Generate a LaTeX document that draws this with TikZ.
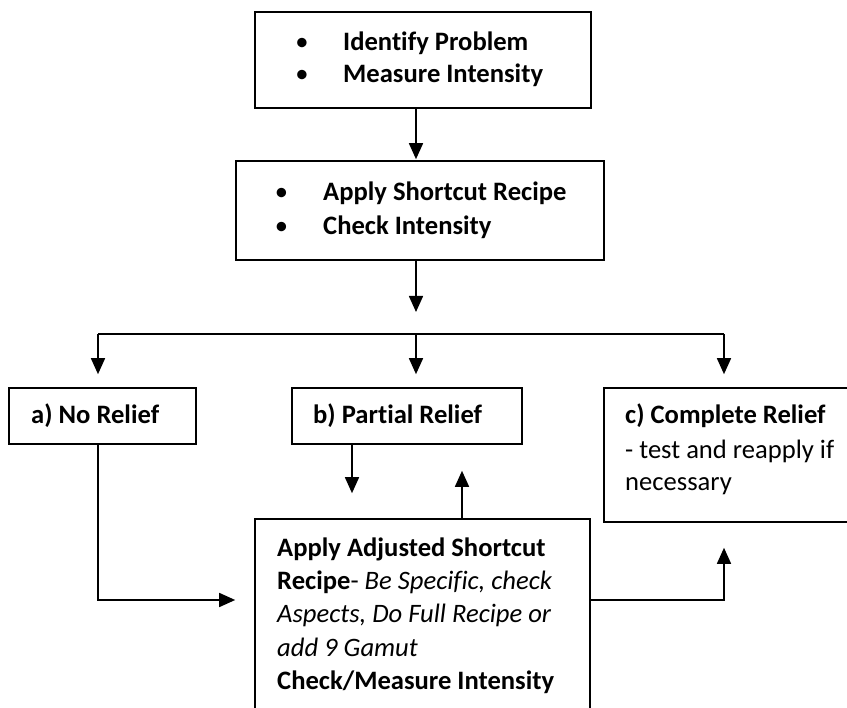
\documentclass[tikz,border=0pt]{standalone}
\usepackage{fontspec}
\setmainfont[Ligatures=NoCommon]{Carlito}
\usetikzlibrary{arrows.meta}
\begin{document}
\begin{tikzpicture}[x=1pt,y=-1pt,
  box/.style={draw, line width=1.6pt, rectangle, inner sep=0pt},
  txt/.style={anchor=base west, inner sep=0pt, font=\fontsize{26.6}{32}\selectfont},
  bul/.style={anchor=base, inner sep=0pt, font=\fontsize{26.6}{32}\selectfont},
  arr/.style={line width=1.6pt, -{Triangle[length=16pt,width=14pt]}},
  ln/.style={line width=1.6pt}]
\useasboundingbox (0,0) rectangle (847,708);
\clip (0,0) rectangle (847,708);
% boxes
\node[box, minimum width=336pt, minimum height=96pt] (top) at (423,60) {};
\node[box, minimum width=368pt, minimum height=99pt] (mid) at (420,210.5) {};
\node[box, minimum width=187pt, minimum height=56pt] (a) at (102.5,416) {};
\node[box, minimum width=230pt, minimum height=56pt] (b) at (407,416) {};
\node[box, minimum width=248pt, minimum height=134pt] (c) at (728,455) {};
\node[box, minimum width=335pt, minimum height=211pt] (d) at (422.5,624.5) {};
% texts
\node[bul] (tb1) at (302,51) {•};
\node[bul] (tb2) at (302,83) {•};
\node[txt] (tt1) at (343,51) {\textbf{Identify Problem}};
\node[txt] (tt2) at (343,83) {\textbf{Measure Intensity}};
\node[bul] (mb1) at (281.5,201) {•};
\node[bul] (mb2) at (281.5,235) {•};
\node[txt] (mt1) at (323,201) {\textbf{Apply Shortcut Recipe}};
\node[txt] (mt2) at (323,235) {\textbf{Check Intensity}};
\node[txt] (at) at (31,424) {\textbf{a) No Relief}};
\node[txt] (bt) at (313,424) {\textbf{b) Partial Relief}};
\node[txt] (ct1) at (625,424) {\textbf{c) Complete Relief}};
\node[txt] (ct2) at (625,459) {- test and reapply if};
\node[txt] (ct3) at (625,491) {necessary};
\node[txt] (dt1) at (277,557) {\textbf{Apply Adjusted Shortcut}};
\node[txt] (dt2) at (277,590) {\textbf{Recipe}- \textit{Be Specific, check}};
\node[txt] (dt3) at (277,623) {\textit{Aspects, Do Full Recipe or}};
\node[txt] (dt4) at (277,656) {\textit{add 9 Gamut}};
\node[txt] (dt5) at (277,689) {\textbf{Check/Measure Intensity}};
% junction coordinates
\coordinate (jA) at (98,334);
\coordinate (jB) at (416,334);
\coordinate (jC) at (724,334);
\coordinate (lvl) at (0,600);
\coordinate (xb) at (352,0);
\coordinate (xu) at (462,0);
% connectors
\draw[arr, shorten >=1pt] (top.south -| jB) -- (mid.north -| jB);
\draw[arr, shorten >=22pt] (mid.south -| jB) -- (jB);
\draw[ln] (jA) -- (jC);
\draw[arr, shorten >=13pt] (jA) -- (a.north -| jA);
\draw[arr, shorten >=13pt] (jB) -- (b.north -| jB);
\draw[arr, shorten >=13pt] (jC) -- (c.north -| jC);
\draw[arr, shorten >=25pt] (b.south -| xb) -- (d.north -| xb);
\draw[arr, shorten >=26pt] (d.north -| xu) -- (b.south -| xu);
\draw[arr, shorten >=19pt] (a.south -| jA) |- (d.west |- lvl);
\draw[arr, shorten >=25pt] (d.east |- lvl) -| (c.south -| jC);
\end{tikzpicture}
\end{document}
